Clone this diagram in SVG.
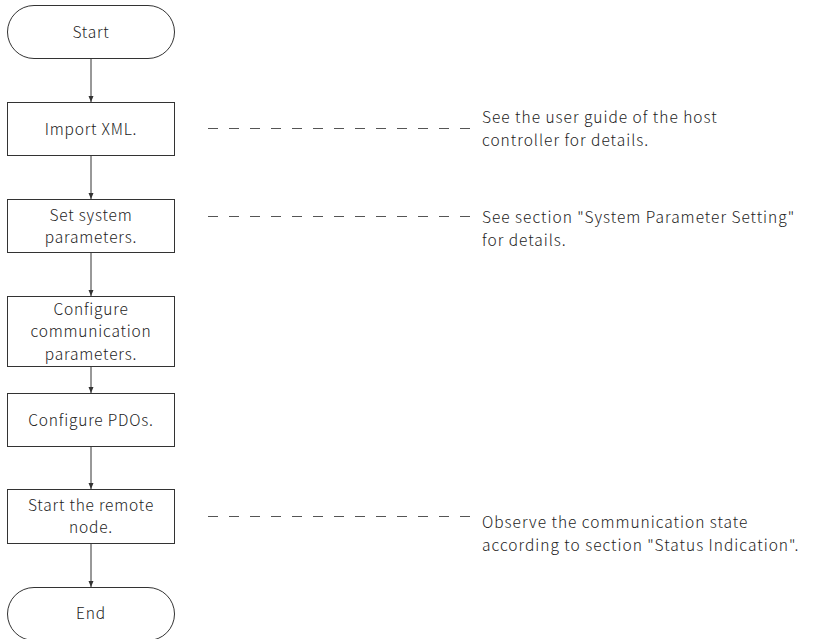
<svg xmlns="http://www.w3.org/2000/svg" width="819" height="639" viewBox="0 0 819 639">
<style>
.shape{fill:#fff;stroke:#333;stroke-width:1}
.t{font-family:"Noto Sans CJK SC","Noto Sans",sans-serif;font-size:15.5px;letter-spacing:0.8px;font-weight:300;fill:#222}
.n{letter-spacing:1px}
.c{text-anchor:middle}
.edge{stroke:#333;stroke-width:1;fill:none}
.dash{stroke:#555;stroke-width:1;stroke-dasharray:10 11;fill:none}
</style>
<defs>
<marker id="ah" markerWidth="6" markerHeight="8" refX="6" refY="4" orient="auto" markerUnits="userSpaceOnUse">
<path d="M0,1.5 L6,4 L0,6.5 Z" fill="#333"/>
</marker>
</defs>
<g id="connectors">
<line class="edge" x1="91" y1="58" x2="91" y2="102" marker-end="url(#ah)"/>
<line class="edge" x1="91" y1="155" x2="91" y2="199" marker-end="url(#ah)"/>
<line class="edge" x1="91" y1="252" x2="91" y2="296" marker-end="url(#ah)"/>
<line class="edge" x1="91" y1="366" x2="91" y2="393" marker-end="url(#ah)"/>
<line class="edge" x1="91" y1="446" x2="91" y2="489" marker-end="url(#ah)"/>
<line class="edge" x1="91" y1="543" x2="91" y2="587" marker-end="url(#ah)"/>
<line class="dash" x1="208" y1="128.5" x2="470" y2="128.5"/>
<line class="dash" x1="208" y1="216.5" x2="470" y2="216.5"/>
<line class="dash" x1="208" y1="516.5" x2="470" y2="516.5"/>
</g>
<g id="start">
<rect class="shape" x="7.5" y="5.5" width="167" height="53" rx="26.5"/>
<text class="t c" x="91" y="38">Start</text>
</g>
<g id="import">
<rect class="shape" x="7.5" y="102.5" width="167" height="53"/>
<text class="t c" x="91" y="134.5">Import XML.</text>
</g>
<g id="setsys">
<rect class="shape" x="7.5" y="199.5" width="167" height="53"/>
<text class="t c"><tspan x="91" y="220.5">Set system</tspan><tspan x="91" y="243">parameters.</tspan></text>
</g>
<g id="comm">
<rect class="shape" x="7.5" y="296.5" width="167" height="70"/>
<text class="t c"><tspan x="91" y="314.5">Configure</tspan><tspan x="91" y="337">communication</tspan><tspan x="91" y="359.5">parameters.</tspan></text>
</g>
<g id="pdo">
<rect class="shape" x="7.5" y="393.5" width="167" height="53"/>
<text class="t c" x="91" y="425.5">Configure PDOs.</text>
</g>
<g id="remote">
<rect class="shape" x="7.5" y="489.5" width="167" height="54"/>
<text class="t c"><tspan x="91" y="510.5">Start the remote</tspan><tspan x="91" y="533">node.</tspan></text>
</g>
<g id="end">
<rect class="shape" x="7.5" y="587.5" width="167" height="53" rx="26.5"/>
<text class="t c" x="91" y="619">End</text>
</g>
<g id="note1">
<text class="t n"><tspan x="482" y="123">See the user guide of the host</tspan><tspan x="482" y="145.5">controller for details.</tspan></text>
</g>
<g id="note2">
<text class="t n"><tspan x="482" y="223">See section "System Parameter Setting"</tspan><tspan x="482" y="245.5">for details.</tspan></text>
</g>
<g id="note3">
<text class="t n"><tspan x="482" y="528">Observe the communication state</tspan><tspan x="482" y="550.5">according to section "Status Indication".</tspan></text>
</g>
</svg>
